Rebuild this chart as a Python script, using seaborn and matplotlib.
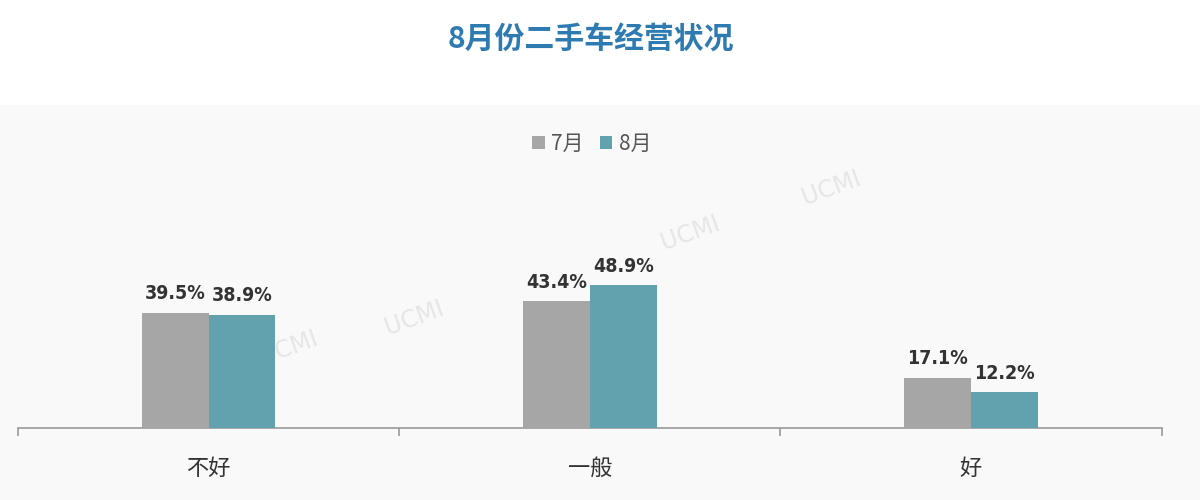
import matplotlib
matplotlib.use("Agg")
import matplotlib.pyplot as plt
import seaborn as sns
import pandas as pd
from matplotlib.patches import Rectangle, Patch

categories = ["不好", "一般", "好"]
series_names = ["7月", "8月"]
values_jul = [39.5, 43.4, 17.1]
values_aug = [38.9, 48.9, 12.2]
title = "8月份二手车经营状况"

df = pd.DataFrame({
    "cat": categories * 2,
    "month": [series_names[0]] * 3 + [series_names[1]] * 3,
    "value": values_jul + values_aug,
})

sns.set_theme(style="white")
plt.rcParams["font.family"] = ["Noto Sans CJK SC", "DejaVu Sans"]

fig = plt.figure(figsize=(12, 5), dpi=100)
fig.patch.set_facecolor("white")
fig.patches.append(Rectangle((0, 0), 1, 0.79, transform=fig.transFigure,
                             facecolor="#f9f9f9", edgecolor="none", zorder=-10))

ax = fig.add_axes([0.015, 0.144, 0.953, 0.35])
ax.set_facecolor("none")
palette = {"7月": "#a6a6a6", "8月": "#62a1ae"}
sns.barplot(data=df, x="cat", y="value", hue="month", hue_order=series_names,
            order=categories, palette=palette, width=0.35, ax=ax,
            saturation=1, legend=False, zorder=3, linewidth=0, edgecolor="none")

for cont in ax.containers:
    ax.bar_label(cont, labels=[f"{v:.1f}%" for v in cont.datavalues],
                 padding=7, fontsize=14, fontweight="bold", color="#333333",
                 family=["DejaVu Sans"], fontstretch="condensed")

ax.set_xlim(-0.5, 2.5)
ax.set_ylim(0, 60)
ax.set_xlabel("")
ax.set_ylabel("")
ax.set_yticks([])
for s in ["top", "left", "right"]:
    ax.spines[s].set_visible(False)
ax.spines["bottom"].set_color("#9a9a9a")
ax.spines["bottom"].set_linewidth(1.2)
ax.set_xticks([-0.5, 0.5, 1.5, 2.5], minor=True)
ax.tick_params(axis="x", which="major", bottom=False, length=0, pad=21,
               labelsize=16, labelcolor="#333333")
ax.tick_params(axis="x", which="minor", bottom=True, length=6, direction="out",
               color="#9a9a9a", width=1.2)

handles = [Patch(facecolor=palette[n], edgecolor="none") for n in series_names]
fig.legend(handles, series_names, loc="center", bbox_to_anchor=(0.493, 0.712),
           ncol=2, frameon=False, fontsize=15, handlelength=0.6, handleheight=0.6,
           handletextpad=0.3, columnspacing=0.8, labelcolor="#555555")

fig.text(0.492, 0.92, title, ha="center", va="center", fontsize=21.5,
         fontweight="heavy", color="#2e7bb1")

for (x, y) in [(0.345, 0.365), (0.575, 0.535), (0.693, 0.625), (0.24, 0.305)]:
    fig.text(x, y, "UCMI", fontsize=17, color="#e6e6e6", rotation=20,
             ha="center", va="center", zorder=-5, family=["DejaVu Sans"])

fig.savefig("out.png", dpi=100)
